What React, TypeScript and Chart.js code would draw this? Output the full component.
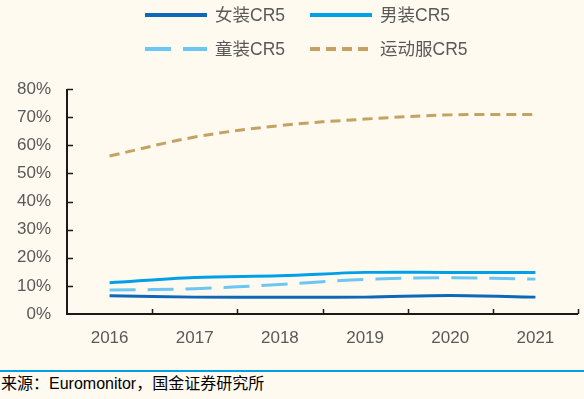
import React, { useEffect, useRef } from "react";
import { Chart, registerables } from "chart.js";

Chart.register(...registerables);

const years = ["2016", "2017", "2018", "2019", "2020", "2021"];
const womenCR5 = [6.5, 6.0, 6.0, 6.0, 6.6, 6.0];
const menCR5 = [11.1, 13.0, 13.6, 14.8, 14.8, 14.8];
const kidsCR5 = [8.5, 9.0, 10.5, 12.3, 12.9, 12.4];
const sportsCR5 = [56.2, 62.9, 67.0, 69.3, 70.8, 70.9];
const seriesNames = ["女装CR5", "男装CR5", "童装CR5", "运动服CR5"];
const yTickValues = [0, 10, 20, 30, 40, 50, 60, 70, 80];

const BG = "#FFFAF0";
const TEXT = "#595959";
const FONT = '"Liberation Sans", Arial, "Noto Sans CJK SC", sans-serif';

const axisPlugin = {
  id: "axisPlugin",
  afterDraw(chart: any) {
    const { ctx, chartArea } = chart;
    const { left, right, top, bottom } = chartArea;
    const yScale = chart.scales.y;
    ctx.save();
    ctx.strokeStyle = "#1a1a1a";
    ctx.lineWidth = 2;
    ctx.beginPath();
    ctx.moveTo(left, top);
    ctx.lineTo(left, bottom);
    ctx.lineTo(right, bottom);
    ctx.stroke();
    ctx.lineWidth = 1.5;
    ctx.beginPath();
    yTickValues.forEach((v) => {
      if (v === 0) return;
      const y = Math.round(yScale.getPixelForValue(v)) + 0.5;
      ctx.moveTo(left, y);
      ctx.lineTo(left + 6, y);
    });
    const n = years.length;
    const w = (right - left) / n;
    for (let i = 1; i <= n; i++) {
      const x = Math.round(left + i * w) + 0.5;
      ctx.moveTo(x, bottom);
      ctx.lineTo(x, bottom - 5);
    }
    ctx.stroke();
    ctx.restore();
  },
};

const legendPlugin = {
  id: "customLegend",
  afterDraw(chart: any) {
    const { ctx } = chart;
    const items = [
      { x: 145, y: 15, ds: 0 },
      { x: 310, y: 15, ds: 1 },
      { x: 145, y: 49, ds: 2 },
      { x: 310, y: 49, ds: 3 },
    ];
    ctx.save();
    items.forEach((it) => {
      const ds = chart.data.datasets[it.ds];
      ctx.strokeStyle = ds.borderColor;
      ctx.lineWidth = 4;
      ctx.lineCap = "butt";
      ctx.setLineDash(ds.borderDash || []);
      ctx.beginPath();
      ctx.moveTo(it.x, it.y);
      ctx.lineTo(it.x + 62, it.y);
      ctx.stroke();
      ctx.setLineDash([]);
      ctx.fillStyle = TEXT;
      ctx.font = `17.5px ${FONT}`;
      ctx.textBaseline = "middle";
      ctx.textAlign = "left";
      ctx.fillText(ds.label, it.x + 70, it.y + 1);
    });
    ctx.restore();
  },
};

export default function App() {
  const canvasRef = useRef<HTMLCanvasElement>(null);

  useEffect(() => {
    document.body.style.margin = "0";
    document.body.style.background = BG;
    const chart = new Chart(canvasRef.current as HTMLCanvasElement, {
      type: "line",
      data: {
        labels: years,
        datasets: [
          {
            label: seriesNames[0],
            data: womenCR5,
            borderColor: "#0F67B8",
            borderWidth: 3,
            pointRadius: 0,
            tension: 0.35,
          },
          {
            label: seriesNames[1],
            data: menCR5,
            borderColor: "#00A0E9",
            borderWidth: 3,
            pointRadius: 0,
            tension: 0.35,
          },
          {
            label: seriesNames[2],
            data: kidsCR5,
            borderColor: "#6CC6F4",
            borderWidth: 3,
            borderDash: [26, 12],
            pointRadius: 0,
            tension: 0.35,
          },
          {
            label: seriesNames[3],
            data: sportsCR5,
            borderColor: "#C4A263",
            borderWidth: 3,
            borderDash: [10, 6],
            pointRadius: 0,
            tension: 0.35,
          },
        ],
      },
      options: {
        animation: false,
        responsive: false,
        maintainAspectRatio: false,
        layout: { padding: { top: 89, right: 6, bottom: 6, left: 0 } },
        plugins: {
          legend: { display: false },
          tooltip: { enabled: false },
        },
        scales: {
          x: {
            offset: true,
            grid: { display: false, offset: true, drawTicks: false },
            border: { display: false },
            ticks: {
              color: TEXT,
              font: { size: 17, family: FONT },
              padding: 14,
              maxRotation: 0,
            },
            afterFit: (s: any) => {
              s.height = 40;
            },
          },
          y: {
            min: 0,
            max: 80,
            afterBuildTicks: (s: any) => {
              s.ticks = yTickValues.map((v) => ({ value: v }));
            },
            grid: { display: false, drawTicks: false },
            border: { display: false },
            ticks: {
              color: TEXT,
              font: { size: 17, family: FONT },
              padding: 16,
              callback: (v: any) => `${v}%`,
            },
            afterFit: (s: any) => {
              s.width = 67;
            },
          },
        },
      },
      plugins: [axisPlugin, legendPlugin],
    });
    return () => chart.destroy();
  }, []);

  return (
    <div style={{ position: "relative", width: 584, height: 399, background: BG, overflow: "hidden" }}>
      <canvas ref={canvasRef} width={584} height={360} style={{ position: "absolute", left: 0, top: 0, width: 584, height: 360 }} />
      <div style={{ position: "absolute", left: 0, top: 370, width: 584, height: 2, background: "#00A0E9" }} />
      <div
        style={{
          position: "absolute",
          left: 1,
          top: 375,
          fontSize: 16,
          lineHeight: "18px",
          color: "#000",
          fontFamily: FONT,
          whiteSpace: "nowrap",
        }}
      >
        来源：Euromonitor，国金证券研究所
      </div>
    </div>
  );
}
